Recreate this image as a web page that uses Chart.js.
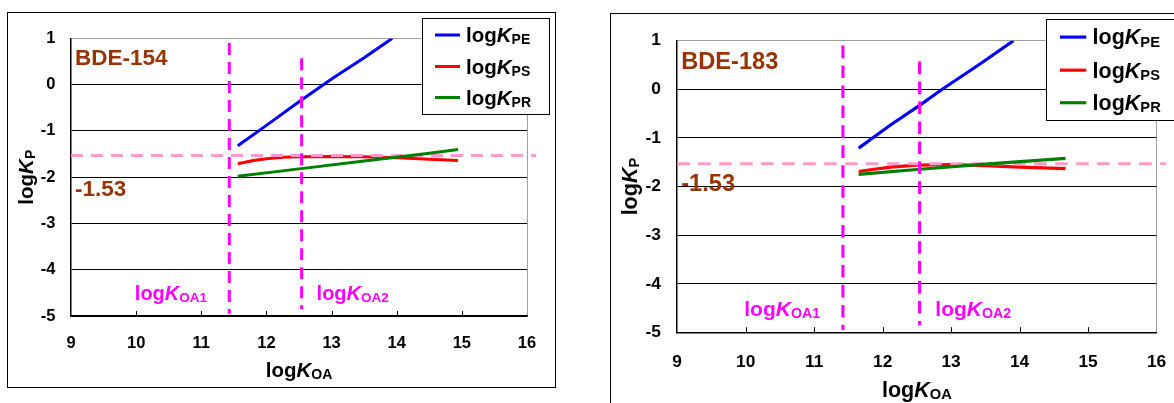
<!DOCTYPE html>
<html lang="en">
<head>
<meta charset="UTF-8">
<title>logKP vs logKOA</title>
<script src="https://cdn.jsdelivr.net/npm/chart.js"></script>
<style>
    body { margin: 0; background: #fff; width: 1174px; height: 403px; overflow: hidden; position: relative; }
    .panel { position: absolute; border: 1px solid #000; background: #fff; }
    #panel154 { left: 7px; top: 12px; }
    #panel183 { left: 610px; top: 13px; }
    canvas { display: block; }
</style>
</head>
<body>
<div class="panel" id="panel154"><canvas id="chart154" width="547" height="374"></canvas></div>
<div class="panel" id="panel183"><canvas id="chart183" width="575" height="393"></canvas></div>
<script>
// axis ticks: logKOA on x, logKP on y
const koaTicks = [9, 10, 11, 12, 13, 14, 15, 16];
const kpTicks = [-5, -4, -3, -2, -1, 0, 1];

// BDE-154
const pe154X = [11.56, 12.0, 12.5, 13.0, 13.5, 13.93];
const pe154Y = [-1.32, -0.88, -0.37, 0.12, 0.58, 1.0];
const ps154X = [11.56, 11.8, 12.0, 12.25, 12.5, 13.0, 13.5, 14.0, 14.5, 14.94];
const ps154Y = [-1.71, -1.64, -1.60, -1.57, -1.56, -1.55, -1.56, -1.58, -1.61, -1.64];
const pr154X = [11.56, 12.5, 13.5, 14.5, 14.94];
const pr154Y = [-1.98, -1.82, -1.65, -1.48, -1.40];
const koa154 = [11.43, 12.54];

// BDE-183
const pe183X = [11.65, 12.12, 12.54, 12.87, 13.4, 13.91];
const pe183Y = [-1.21, -0.73, -0.33, 0.0, 0.5, 1.0];
const ps183X = [11.65, 11.9, 12.12, 12.5, 13.0, 13.5, 14.0, 14.67];
const ps183Y = [-1.69, -1.64, -1.60, -1.56, -1.55, -1.57, -1.60, -1.63];
const pr183X = [11.65, 12.5, 13.5, 14.67];
const pr183Y = [-1.75, -1.65, -1.54, -1.42];
const koa183 = [11.42, 12.54];

// shared reference lines
const kpLimit = -1.53;
const limitX = [9, 16.14];
const koa1Span = [0.9, -4.95];
const koa2Span = [0.57, -4.85];

const FONT = "'Liberation Sans', Arial, sans-serif";
const BROWN = '#993300';
const MAGENTA = '#ff00ff';
const series = [
    { sub: 'PE', color: '#0000ff' },
    { sub: 'PS', color: '#ff0000' },
    { sub: 'PR', color: '#008000' }
];

function pts(xs, ys) {
    return xs.map((x, i) => ({ x: x, y: ys[i] }));
}

// draws "log" + italic K + subscript, left or centered on x, y is the baseline
function logK(ctx, sub, x, y, size, subSize, drop, color, align) {
    const parts = [
        { t: 'log', f: 'bold ' + size + 'px ' + FONT, dy: 0 },
        { t: 'K', f: 'italic bold ' + size + 'px ' + FONT, dy: 0 },
        { t: sub, f: 'bold ' + subSize + 'px ' + FONT, dy: drop }
    ];
    let w = 0;
    parts.forEach(p => { ctx.font = p.f; w += ctx.measureText(p.t).width; });
    let cx = align === 'center' ? x - w / 2 : x;
    ctx.fillStyle = color;
    ctx.textAlign = 'left';
    ctx.textBaseline = 'alphabetic';
    parts.forEach(p => {
        ctx.font = p.f;
        ctx.fillText(p.t, cx, y + p.dy);
        cx += ctx.measureText(p.t).width;
    });
}

const annotatePlugin = {
    id: 'annotate',
    afterDraw(chart, args, o) {
        const ctx = chart.ctx;
        const a = chart.chartArea;
        const x = chart.scales.x, y = chart.scales.y;
        const s = o.s;
        ctx.save();

        // small inside ticks on the x axis
        ctx.strokeStyle = '#000';
        ctx.lineWidth = 1;
        koaTicks.slice(1, -1).forEach(v => {
            const px = Math.round(x.getPixelForValue(v)) + 0.5;
            ctx.beginPath();
            ctx.moveTo(px, a.bottom);
            ctx.lineTo(px, a.bottom - 5 * s);
            ctx.stroke();
        });

        // axis titles
        logK(ctx, 'OA', (a.left + a.right) / 2, a.bottom + 61 * s, 20.5 * s, 14 * s, 2 * s, '#000', 'center');
        ctx.save();
        ctx.translate(a.left - 38 * s, (a.top + a.bottom) / 2);
        ctx.rotate(-Math.PI / 2);
        logK(ctx, 'P', 0, 0, 20.5 * s, 14 * s, 2 * s, '#000', 'center');
        ctx.restore();

        // compound name and limit value
        ctx.fillStyle = BROWN;
        ctx.font = 'bold ' + (22.5 * s) + 'px ' + FONT;
        ctx.textAlign = 'left';
        ctx.textBaseline = 'alphabetic';
        ctx.fillText(o.name, x.getPixelForValue(9.06), y.getPixelForValue(0.415));
        ctx.fillText(String(kpLimit), x.getPixelForValue(9.06), y.getPixelForValue(o.limitBase));

        // KOA1 / KOA2 labels
        logK(ctx, 'OA1', x.getPixelForValue(9.98), y.getPixelForValue(-4.66), 20 * s, 13.5 * s, 2 * s, MAGENTA, 'left');
        logK(ctx, 'OA2', x.getPixelForValue(12.77), y.getPixelForValue(-4.66), 20 * s, 13.5 * s, 2 * s, MAGENTA, 'left');

        // legend
        const bx = a.right - 105.3 * s, by = a.top - 20.4 * s;
        ctx.fillStyle = '#fff';
        ctx.fillRect(bx, by, 126.6 * s, 96 * s);
        ctx.strokeStyle = '#000';
        ctx.lineWidth = 1;
        ctx.strokeRect(Math.round(bx) + 0.5, Math.round(by) + 0.5, Math.round(126.6 * s), Math.round(96 * s));
        [17, 48.5, 79.5].forEach((ry, i) => {
            const cy = by + ry * s;
            ctx.strokeStyle = series[i].color;
            ctx.lineWidth = 3 * s;
            ctx.beginPath();
            ctx.moveTo(bx + 13.3 * s, cy);
            ctx.lineTo(bx + 38.3 * s, cy);
            ctx.stroke();
            logK(ctx, series[i].sub, bx + 44.3 * s, cy + 7 * s, 20.5 * s, 14 * s, 2 * s, '#000', 'left');
        });
        ctx.restore();
    }
};

function makeChart(id, s, d) {
    const line = (data, color, order, extra) => Object.assign({
        data: data, borderColor: color, backgroundColor: color, borderWidth: 3 * s,
        pointRadius: 0, tension: 0, fill: false, order: order
    }, extra || {});

    const tickFont = { family: FONT, size: 16.5 * s, weight: 'bold' };

    return new Chart(document.getElementById(id), {
        type: 'line',
        data: {
            datasets: [
                line(pts([d.koa[0], d.koa[0]], koa1Span), MAGENTA, 0, { borderDash: [12 * s, 7 * s] }),
                line(pts([d.koa[1], d.koa[1]], koa2Span), MAGENTA, 0, { borderDash: [12 * s, 7 * s] }),
                line(pts(d.prX, d.prY), series[2].color, 1, { label: 'logKPR' }),
                line(pts(limitX, [kpLimit, kpLimit]), '#ff99cc', 2, { borderDash: [12 * s, 8 * s], clip: false }),
                line(pts(d.peX, d.peY), series[0].color, 3, { label: 'logKPE' }),
                line(pts(d.psX, d.psY), series[1].color, 4, { label: 'logKPS' })
            ]
        },
        options: {
            responsive: false,
            animation: false,
            layout: { padding: { left: 0, top: 24.7 * s, right: 28 * s, bottom: 0 } },
            scales: {
                x: {
                    type: 'linear',
                    min: koaTicks[0], max: koaTicks[koaTicks.length - 1],
                    afterBuildTicks: sc => { sc.ticks = koaTicks.map(v => ({ value: v })); },
                    afterFit: sc => { sc.height = 71 * s; },
                    grid: {
                        drawTicks: false, lineWidth: 1,
                        color: c => c.tick && c.tick.value === 16 ? '#a0a0a0' : 'rgba(0,0,0,0)'
                    },
                    border: { color: '#000', width: 1.5 },
                    ticks: { color: '#000', font: tickFont, padding: 18 * s, callback: v => String(v) }
                },
                y: {
                    type: 'linear',
                    min: kpTicks[0], max: kpTicks[kpTicks.length - 1],
                    afterBuildTicks: sc => { sc.ticks = kpTicks.map(v => ({ value: v })); },
                    afterFit: sc => { sc.width = 63 * s; },
                    grid: {
                        drawTicks: false, lineWidth: 1,
                        color: c => c.tick && c.tick.value === 1 ? '#a0a0a0' : '#000'
                    },
                    border: { color: '#000', width: 1.5 },
                    ticks: { color: '#000', font: tickFont, padding: 15.5 * s, callback: v => String(v) }
                }
            },
            plugins: {
                legend: { display: false },
                tooltip: { enabled: false },
                annotate: { s: s, name: d.name, limitBase: d.limitBase }
            }
        },
        plugins: [annotatePlugin]
    });
}

makeChart('chart154', 1, {
    name: 'BDE-154', limitBase: -2.40, koa: koa154,
    peX: pe154X, peY: pe154Y, psX: ps154X, psY: ps154Y, prX: pr154X, prY: pr154Y
});
makeChart('chart183', 1.05, {
    name: 'BDE-183', limitBase: -2.10, koa: koa183,
    peX: pe183X, peY: pe183Y, psX: ps183X, psY: ps183Y, prX: pr183X, prY: pr183Y
});
</script>
</body>
</html>
